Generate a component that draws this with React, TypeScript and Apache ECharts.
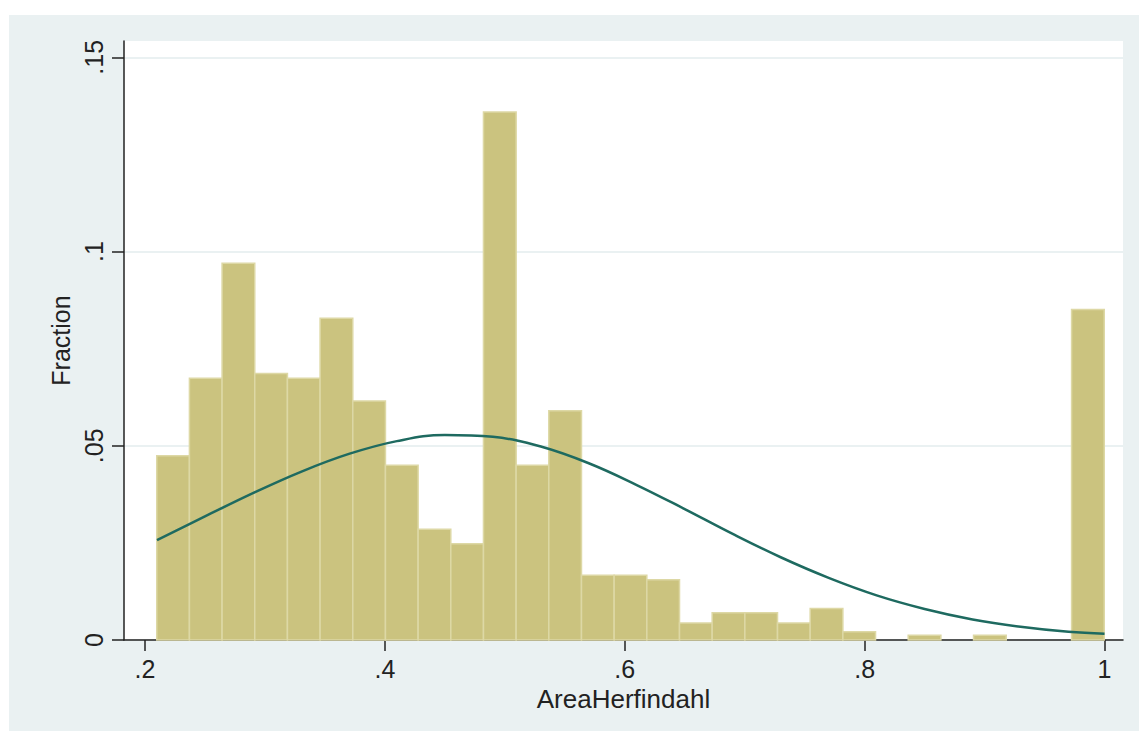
import React, { useEffect, useRef } from "react";
import * as echarts from "echarts";

// Histogram of AreaHerfindahl (fraction per bin)
const binStart = 0.2098;
const binWidth = 0.02724;
const fractions = [
  0.0474, 0.0674, 0.097, 0.0686, 0.0674, 0.0828, 0.0615, 0.045, 0.0285, 0.0248,
  0.1359, 0.045, 0.059, 0.0167, 0.0167, 0.0155, 0.0044, 0.007, 0.007, 0.0044,
  0.0081, 0.0021, 0, 0.0012, 0, 0.0012, 0, 0, 0.0851,
];

// Normal density overlay
const curveX = [0.21, 0.25, 0.29, 0.33, 0.37, 0.41, 0.45, 0.49, 0.53, 0.57, 0.61, 0.65, 0.69, 0.73, 0.77, 0.81, 0.85, 0.89, 0.93, 0.97, 1.0];
const curveY = [0.0257, 0.0318, 0.0378, 0.0433, 0.0479, 0.0512, 0.0528, 0.0523, 0.0498, 0.0455, 0.0399, 0.0337, 0.0273, 0.0213, 0.016, 0.0115, 0.008, 0.0053, 0.0034, 0.0021, 0.0016];

const xTicks = [0.2, 0.4, 0.6, 0.8, 1.0];
const yTicks = [0, 0.05, 0.1, 0.15];

const FONT = "'Liberation Sans', Arial, sans-serif";

function fmt(v: number): string {
  if (v === 0) return "0";
  if (Math.abs(v - 1) < 1e-9) return "1";
  let s = String(Math.round(v * 1000) / 1000);
  return s.replace(/^0/, "");
}

export default function App() {
  const ref = useRef<HTMLDivElement>(null);
  useEffect(() => {
    if (!ref.current) return;
    const chart = echarts.init(ref.current, null, { renderer: "svg" });
    const barData = fractions
      .map((f, i) => [binStart + i * binWidth, binStart + (i + 1) * binWidth, f])
      .filter((d) => d[2] > 0);
    const lineData = curveX.map((x, i) => [x, curveY[i]]);
    chart.setOption({
      animation: false,
      backgroundColor: "#ffffff",
      graphic: {
        elements: [
          {
            type: "rect",
            z: -10,
            silent: true,
            shape: { x: 9, y: 15, width: 1130, height: 716 },
            style: { fill: "#EAF1F2" },
          },
        ],
      },
      grid: {
        left: 124,
        top: 41,
        right: 16,
        bottom: 91,
        show: true,
        backgroundColor: "#ffffff",
        borderWidth: 0,
      },
      xAxis: {
        type: "value",
        min: 0.1825,
        max: 1.0154,
        name: "AreaHerfindahl",
        nameLocation: "middle",
        nameGap: 42,
        nameTextStyle: { fontFamily: FONT, fontSize: 26, color: "#222" },
        axisLine: { show: true, onZero: false, lineStyle: { color: "#222", width: 1.5 } },
        axisTick: { show: true, length: 11, customValues: xTicks, lineStyle: { color: "#222", width: 1.5 } },
        axisLabel: {
          customValues: xTicks,
          margin: 16,
          fontFamily: FONT,
          fontSize: 25,
          color: "#222",
          formatter: (v: number) => fmt(v),
        },
        splitLine: { show: false },
      },
      yAxis: {
        type: "value",
        min: 0,
        max: 0.1542,
        interval: 0.05,
        name: "Fraction",
        nameLocation: "middle",
        nameGap: 50,
        nameRotate: 90,
        nameTextStyle: { fontFamily: FONT, fontSize: 25, color: "#222" },
        axisLine: { show: true, onZero: false, lineStyle: { color: "#222", width: 1.5 } },
        axisTick: { show: true, length: 12, customValues: yTicks, lineStyle: { color: "#222", width: 1.5 } },
        axisLabel: {
          customValues: yTicks,
          rotate: 90,
          margin: 18,
          fontFamily: FONT,
          fontSize: 25,
          color: "#222",
          formatter: (v: number) => fmt(v),
        },
        splitLine: { show: true, lineStyle: { color: "#EAF1F2", width: 2 } },
      },
      series: [
        {
          type: "custom",
          data: barData,
          encode: { x: [0, 1], y: 2 },
          renderItem: (params: any, api: any) => {
            const p0 = api.coord([api.value(0), api.value(2)]);
            const p1 = api.coord([api.value(1), 0]);
            return {
              type: "rect",
              shape: { x: p0[0], y: p0[1], width: p1[0] - p0[0], height: p1[1] - p0[1] },
              style: { fill: "#CBC37F", stroke: "#DDD8A5", lineWidth: 1.5 },
            };
          },
          z: 2,
        },
        {
          type: "line",
          data: lineData,
          smooth: 0.4,
          showSymbol: false,
          symbol: "none",
          lineStyle: { color: "#1E6A60", width: 2.5 },
          z: 3,
        },
      ],
    });
    return () => chart.dispose();
  }, []);
  return (
    <div
      ref={ref}
      style={{ position: "absolute", left: 0, top: 0, width: 1139, height: 731 }}
    />
  );
}
